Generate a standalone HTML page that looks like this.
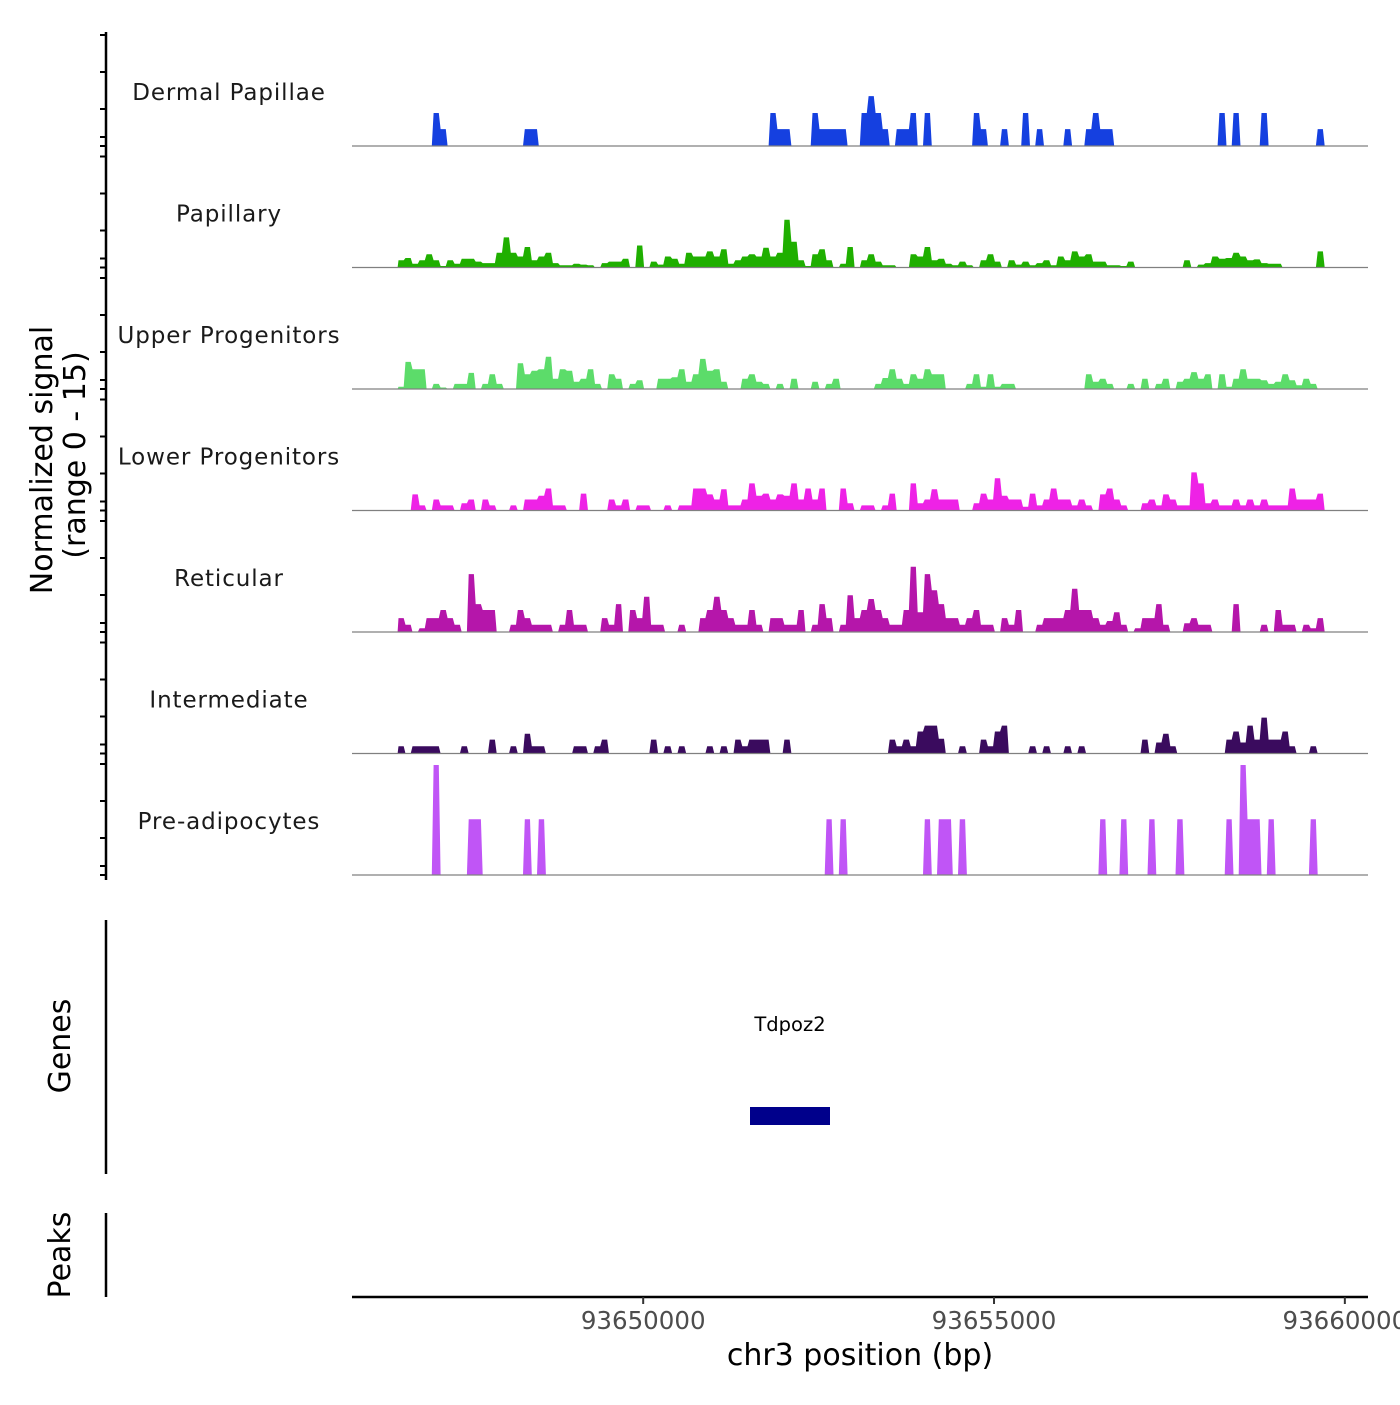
<!DOCTYPE html>
<html><head><meta charset="utf-8"><title>Track plot</title>
<style>
html,body{margin:0;padding:0;background:#fff;}
svg text{font-family:"DejaVu Sans","Liberation Sans",sans-serif;}
</style></head>
<body>
<svg id="chart" width="1400" height="1400" viewBox="0 0 1400 1400" xmlns="http://www.w3.org/2000/svg">
<g id="left-axes"></g>
<g id="tracks"></g>
<text transform="translate(52,460) rotate(-90)" text-anchor="middle" font-size="30" fill="#000">Normalized signal</text>
<text transform="translate(85,455) rotate(-90)" text-anchor="middle" font-size="30" fill="#000">(range 0 - 15)</text>
<line x1="106" y1="920" x2="106" y2="1174" stroke="#000" stroke-width="2.5"/>
<text transform="translate(70,1046) rotate(-90)" text-anchor="middle" font-size="30" fill="#000">Genes</text>
<text x="790" y="1031" text-anchor="middle" font-size="19.5" fill="#000">Tdpoz2</text>
<rect id="gene" x="750" y="1107" width="80" height="18" fill="#00008b"/>
<line x1="106" y1="1213" x2="106" y2="1297" stroke="#000" stroke-width="2.5"/>
<text transform="translate(70,1255) rotate(-90)" text-anchor="middle" font-size="30" fill="#000">Peaks</text>
<line x1="352" y1="1297" x2="1368" y2="1297" stroke="#000" stroke-width="2.5"/>
<g id="xticks"></g>
<text x="860" y="1365" text-anchor="middle" font-size="30" fill="#000">chr3 position (bp)</text>
</svg>
<script>
const trackNames = ["Dermal Papillae","Papillary","Upper Progenitors","Lower Progenitors","Reticular","Intermediate","Pre-adipocytes"];
const trackColors = ["#1540e0","#1faf00","#5cdc6a","#ee22e6","#b516aa","#3a0b5e","#c055f6"];
const xTickValues = [93650000,93655000,93660000];
const xTickLabels = ["93650000","93655000","93660000"];
const binStart = 93646500;
const binSize = 100;
const dermalValues = [0,0,0,0,0,4.5,2.3,0,0,0, 0,0,0,0,0,0,0,0,2.3,2.3, 0,0,0,0,0,0,0,0,0,0, 0,0,0,0,0,0,0,0,0,0, 0,0,0,0,0,0,0,0,0,0, 0,0,0,4.5,2.3,2.3,0,0,0,4.5, 2.3,2.3,2.3,2.3,0,0,4.5,6.8,4.5,2.3, 0,2.3,2.3,4.5,0,4.5,0,0,0,0, 0,0,4.5,2.3,0,0,2.3,0,0,4.5, 0,2.3,0,0,0,2.3,0,0,2.3,4.5, 2.3,2.3,0,0,0,0,0,0,0,0, 0,0,0,0,0,0,0,4.5,0,4.5, 0,0,0,4.5,0,0,0,0,0,0, 0,2.3,0];
const papillaryValues = [1,1.3,0.5,1,1.8,1,0.2,1,0.5,1.2, 1.2,0.8,0.6,0.6,2,4.1,2,1.5,2.8,1, 1.5,2,0.6,0.3,0.3,0.5,0.4,0.3,0,0.6, 0.8,0.8,1.2,0,3,0,0.8,0.4,1.5,1.2, 0.5,2,1.5,1.5,2.2,1.5,2.5,0.5,1,1.5, 1.8,1.5,2.7,1.5,2,6.5,3.5,1,0.2,1.8, 2.5,1,0,0.5,2.8,0,1,1.8,0.8,0.3, 0.3,0,0,1.8,1.5,2.8,1,1.2,0.5,0.3, 0.8,0.3,0,1,1.8,0.8,0,1,0.4,0.8, 0.3,0.6,1,0.3,1.5,1,2.2,1.5,1.8,0.8, 0.8,0.3,0.3,0.2,0.8,0,0,0,0,0, 0,0,1,0,0.4,0.6,1.5,1.2,1.3,2, 1.5,1,1.1,0.6,0.5,0.5,0,0,0,0, 0,2.2,0];
const upperValues = [0.3,3.7,2.7,2.7,0,0.7,0.2,0,0.7,0.7, 2.2,0,0.7,2,0.7,0,0,3.5,2,2.5, 2.7,4.4,1.4,2.7,2.5,1,1.4,2.7,0.7,0, 2,1.4,0,0.7,1.2,0,0,1.4,1.4,1.6, 2.7,1,2,4.1,2.5,2.7,1,0,0,1.4, 2,1,0.7,0,0.7,0,1.4,0,0,1, 0,0.7,1.4,0,0,0,0,0,0.7,1.5, 2.7,1.4,0.7,2,1.4,2.7,2,2,0,0, 0,0.7,2,0.3,2,0.3,0.7,0.7,0,0, 0,0,0,0,0,0,0,0,2,1, 1.4,0.7,0,0,0.7,0,1.4,0,0.7,1.4, 0,1,1.4,2.3,1.4,2,0,2,0.3,1.4, 2.7,1.4,1.4,1.2,0.7,1,2,1.2,0.5,1.4, 0.7,0,0];
const lowerValues = [0,0,2.2,0.7,0,1.5,0.7,0.7,0,1, 1.5,0,1.5,0.7,0,0,0.7,0,1.5,1.5, 2,3,0.7,0.7,0,0,2.3,0,0,0, 1.5,0.7,1.5,0,0.7,0.7,0,0,0.7,0, 0.7,0.7,3,3,2.2,1.5,2.9,0.7,0.7,1.5, 3.7,2,2.3,1.5,2.2,2,3.7,1.5,3,1.5, 3,0,0,3,1,0,0.7,0.7,0,0.7, 2.3,0,0,3.7,1,1.5,2.9,1.5,1.5,1.5, 0,0,1,2.3,1.5,4.4,2,1.5,1.5,0.5, 2.3,0.7,1.5,3,1.5,1.5,0.7,1.5,0.7,0, 2.2,3,1.5,0.7,0,0,1,1.5,0.7,2.2, 1.5,0.7,0.7,5.2,3.7,1,1.5,0.7,0.7,1.5, 0.7,1.5,0.7,1.5,0.7,0.7,0.7,3,1.5,1.5, 1.5,2.3,0];
const reticularValues = [1.9,1,0,0.5,1.9,1.9,3,1.9,1,0, 7.9,3.8,3,3,0,0,1,3,1.9,1, 1,1,0,1,3,1,1,0,0,1.9, 1,3.8,0,3,1.9,4.8,1,1,0,0, 1,0,0,1.9,3,4.8,3,1.9,1,1, 3,1,0,1.9,1.9,1,1,3,0,1, 3.8,1.9,0,1,5,1.9,3,4.5,3,1.9, 1,1,3,8.9,2.7,7.9,5.7,3.8,1.9,1.9, 1,1.9,3,1,1,0,1.9,1,3,0, 0,1,1.9,1.9,1.9,3,5.9,3,3,1.9, 1,1.5,2.7,1,0,0.5,1.9,1.9,3.8,1, 0,0,1.2,1.9,1,1,0,0,0,3.8, 0,0,0,1,0,3,1,1,0,1, 0.5,1.9,0];
const intermediateValues = [1,0,1,1,1,1,0,0,0,1, 0,0,0,1.9,0,0,1,0,2.7,1, 1,0,0,0,0,1,1,0,1,1.9, 0,0,0,0,0,0,1.9,0,1,0, 1,0,0,0,1,0,1,0,1.9,1, 1.9,1.9,1.9,0,0,1.9,0,0,0,0, 0,0,0,0,0,0,0,0,0,0, 1.9,1,1.9,1,3,3.8,3.8,2,0,0, 1,0,0,1.9,1,3,3.8,0,0,0, 1,0,1,0,0,1,0,1,0,0, 0,0,0,0,0,0,1.9,0,1.5,2.7, 1,0,0,0,0,0,0,0,1.9,3, 1.5,3.8,1.9,4.9,1.9,1.9,3,1,0,0, 1,0,0];
const preadipocyteValues = [0,0,0,0,0,15,0,0,0,0, 7.6,7.6,0,0,0,0,0,0,7.6,0, 7.6,0,0,0,0,0,0,0,0,0, 0,0,0,0,0,0,0,0,0,0, 0,0,0,0,0,0,0,0,0,0, 0,0,0,0,0,0,0,0,0,0, 0,7.6,0,7.6,0,0,0,0,0,0, 0,0,0,0,0,7.6,0,7.6,7.6,0, 7.6,0,0,0,0,0,0,0,0,0, 0,0,0,0,0,0,0,0,0,0, 7.6,0,0,7.6,0,0,0,7.6,0,0, 0,7.6,0,0,0,0,0,0,7.6,0, 15,7.6,7.6,0,7.6,0,0,0,0,0, 7.6,0,0];
const trackSeries = [dermalValues,papillaryValues,upperValues,lowerValues,reticularValues,intermediateValues,preadipocyteValues];

const NS = "http://www.w3.org/2000/svg";
const X0 = 352, X1 = 1368, BP0 = 93645850, BP1 = 93660330;
function xScale(bp){ return X0 + (bp - BP0) / (BP1 - BP0) * (X1 - X0); }
const firstBase = 146, trackStep = 121.5, yMax = 15, yPix = 110;
function yScale(v, base){ return base - v / yMax * yPix; }

const tracksG = document.getElementById('tracks');
const axesG = document.getElementById('left-axes');

const axisLine = document.createElementNS(NS,'line');


axisLine.setAttribute('x1',106); axisLine.setAttribute('x2',106);
axisLine.setAttribute('y1',32); axisLine.setAttribute('y2',880);
axisLine.setAttribute('stroke','#000'); axisLine.setAttribute('stroke-width','2.5');
axesG.appendChild(axisLine);

trackSeries.forEach(function(vals, t){
  const base = firstBase + t * trackStep;
  [0, 9, 37, 74, 111].forEach(function(off){
    const tk = document.createElementNS(NS,'line');
    
    
    tk.setAttribute('x1',100); tk.setAttribute('x2',106);
    tk.setAttribute('y1',base - off); tk.setAttribute('y2',base - off);
    tk.setAttribute('stroke','#000'); tk.setAttribute('stroke-width','2');
    axesG.appendChild(tk);
  });
  const g = document.createElementNS(NS,'g');
  
  
  let pts = [[xScale(binStart), base]];
  vals.forEach(function(v, i){
    const a = xScale(binStart + i*binSize), b = xScale(binStart + (i+1)*binSize);
    const y = yScale(v, base);
    pts.push([a+0.9, y]); pts.push([b-0.9, y]);
  });
  pts.push([xScale(binStart + vals.length*binSize), base]);
  const poly = document.createElementNS(NS,'polygon');
  
  
  poly.setAttribute('points', pts.map(p => p[0].toFixed(1)+','+p[1].toFixed(1)).join(' '));
  poly.setAttribute('fill', trackColors[t]);
  g.appendChild(poly);
  const bl = document.createElementNS(NS,'line');
  
  
  bl.setAttribute('x1',X0); bl.setAttribute('x2',X1);
  bl.setAttribute('y1',base); bl.setAttribute('y2',base);
  bl.setAttribute('stroke','#808080'); bl.setAttribute('stroke-width','1.2');
  g.appendChild(bl);
  const lab = document.createElementNS(NS,'text');
  
  
  lab.setAttribute('x',229); lab.setAttribute('y',base - 46);
  lab.setAttribute('text-anchor','middle'); lab.setAttribute('font-size','23');
  lab.setAttribute('letter-spacing','0.9');
  lab.setAttribute('fill','#1a1a1a');
  lab.textContent = trackNames[t];
  g.appendChild(lab);
  tracksG.appendChild(g);
});

const xt = document.getElementById('xticks');
xTickValues.forEach(function(v, i){
  const x = xScale(v);
  const tk = document.createElementNS(NS,'line');
  
  
  tk.setAttribute('x1',x); tk.setAttribute('x2',x);
  tk.setAttribute('y1',1297); tk.setAttribute('y2',1304);
  tk.setAttribute('stroke','#333'); tk.setAttribute('stroke-width','2');
  xt.appendChild(tk);
  const lb = document.createElementNS(NS,'text');
  
  
  lb.setAttribute('x',x); lb.setAttribute('y',1329);
  lb.setAttribute('text-anchor','middle'); lb.setAttribute('font-size','24.5');
  lb.setAttribute('fill','#4d4d4d');
  lb.textContent = xTickLabels[i];
  xt.appendChild(lb);
});
</script>
</body></html>
